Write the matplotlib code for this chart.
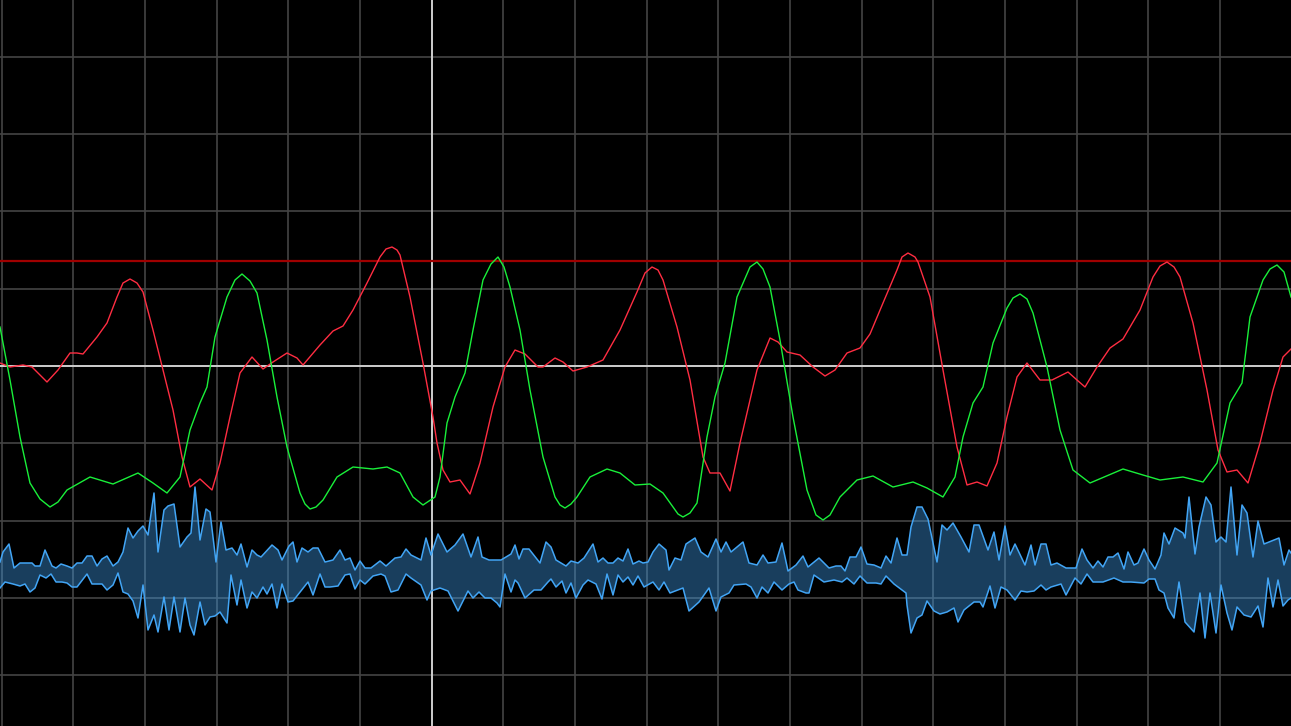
"""
示波器风格波形图：红/绿两条平滑曲线 + 下方蓝色包络
"""

import numpy as np
from matplotlib import pyplot as plt

# 横轴为采样点序号, 纵轴为幅值（以白色基线为 0）
red_x = [0, 10, 23, 32, 47, 58, 70, 77, 83, 97, 107, 117, 123, 130, 137, 143, 153, 163, 173, 182,
         190, 200, 212, 220, 230, 240, 252, 263, 273, 287, 297, 303, 320, 333, 343, 353, 367, 380, 386, 392,
         397, 400, 410, 423, 433, 437, 443, 450, 460, 470, 480, 493, 505, 515, 525, 538, 543, 555, 563, 573,
         587, 603, 620, 637, 645, 652, 658, 663, 677, 690, 703, 710, 720, 730, 740, 757, 770, 778, 787, 800,
         813, 825, 835, 847, 860, 870, 883, 897, 902, 908, 915, 918, 930, 943, 957, 967, 977, 987, 997, 1007,
         1017, 1027, 1040, 1052, 1068, 1077, 1085, 1097, 1110, 1123, 1140, 1153, 1160, 1167, 1174, 1180, 1193, 1207, 1218, 1227,
         1237, 1248, 1260, 1273, 1283, 1291]
red_y = [3, -1, 1, -1, -16, -4, 13, 13, 12, 29, 43, 69, 83, 87, 83, 74, 36, -4, -44, -91,
         -121, -113, -124, -97, -51, -7, 9, -3, 4, 13, 8, 1, 21, 35, 40, 56, 83, 109, 117, 119,
         116, 111, 69, 3, -51, -77, -104, -116, -114, -128, -97, -41, -1, 16, 12, -1, -1, 8, 4, -5,
         -1, 6, 36, 74, 93, 99, 96, 86, 39, -14, -91, -107, -107, -125, -77, -4, 28, 24, 14, 11,
         -1, -10, -4, 13, 18, 32, 63, 96, 109, 113, 109, 104, 69, -4, -81, -119, -116, -120, -97, -51,
         -11, 3, -14, -14, -6, -14, -21, -1, 18, 27, 56, 89, 100, 104, 99, 89, 43, -24, -84, -106,
         -104, -117, -77, -24, 9, 17]

green_x = [0, 10, 20, 30, 40, 50, 58, 67, 90, 113, 138, 153, 167, 180, 190, 200, 207, 215, 227, 235,
           242, 250, 257, 267, 277, 287, 300, 305, 310, 316, 323, 337, 353, 373, 387, 400, 413, 423, 435, 440,
           447, 455, 465, 473, 483, 491, 498, 504, 510, 520, 530, 543, 555, 560, 565, 571, 577, 590, 607, 620,
           635, 650, 663, 673, 678, 683, 690, 697, 707, 715, 725, 737, 750, 757, 763, 770, 780, 793, 807, 816,
           823, 830, 840, 857, 873, 893, 913, 927, 943, 955, 963, 973, 983, 993, 1007, 1013, 1020, 1027, 1033, 1047,
           1060, 1073, 1090, 1123, 1143, 1160, 1183, 1203, 1217, 1230, 1242, 1250, 1263, 1270, 1277, 1284, 1291]
green_y = [39, -14, -71, -117, -133, -141, -136, -124, -111, -118, -107, -117, -127, -111, -64, -37, -21, 29, 69, 86,
           92, 85, 73, 26, -31, -81, -127, -138, -143, -141, -134, -111, -101, -103, -101, -107, -131, -139, -131, -111,
           -57, -31, -7, 36, 86, 102, 109, 99, 79, 36, -24, -91, -131, -139, -142, -138, -131, -111, -103, -107,
           -119, -118, -127, -141, -148, -151, -147, -137, -71, -31, 3, 69, 99, 104, 97, 79, 26, -51, -124, -149,
           -154, -149, -131, -114, -110, -121, -116, -122, -131, -111, -71, -37, -21, 23, 58, 68, 72, 67, 53, -1,
           -64, -104, -117, -103, -109, -114, -111, -116, -97, -37, -17, 49, 86, 97, 101, 94, 69]

env_hi_x = [0, 3, 9, 14, 20, 32, 35, 40, 45, 52, 56, 61, 67, 72, 77, 82, 87, 92, 97, 102,
            107, 113, 118, 123, 128, 133, 138, 143, 148, 154, 158, 164, 168, 174, 180, 187, 191, 195, 200, 206,
            210, 216, 221, 226, 232, 237, 241, 247, 252, 257, 261, 272, 278, 282, 289, 293, 297, 302, 308, 313,
            318, 325, 333, 340, 345, 350, 355, 360, 365, 371, 380, 386, 395, 401, 406, 411, 421, 426, 431, 438,
            447, 455, 463, 471, 478, 482, 489, 501, 511, 515, 519, 523, 529, 540, 546, 551, 556, 566, 571, 578,
            584, 593, 598, 603, 608, 613, 618, 623, 628, 633, 639, 643, 648, 653, 659, 666, 669, 675, 681, 686,
            695, 701, 708, 716, 721, 726, 731, 743, 749, 757, 763, 768, 776, 782, 788, 796, 803, 808, 819, 829,
            836, 841, 845, 850, 856, 861, 867, 874, 881, 886, 891, 897, 902, 907, 911, 917, 922, 928, 937, 942,
            947, 953, 961, 969, 974, 979, 988, 994, 999, 1005, 1010, 1015, 1025, 1031, 1035, 1041, 1046, 1051, 1057, 1066,
            1076, 1082, 1087, 1093, 1098, 1103, 1108, 1113, 1118, 1124, 1128, 1134, 1138, 1144, 1149, 1155, 1161, 1164, 1169, 1175,
            1183, 1185, 1189, 1195, 1199, 1206, 1211, 1216, 1221, 1226, 1231, 1237, 1242, 1247, 1253, 1258, 1264, 1279, 1284, 1289,
            1291]
env_hi_y = [-196, -186, -178, -202, -197, -197, -200, -200, -184, -200, -202, -198, -200, -202, -197, -197, -190, -190, -200, -193,
            -190, -200, -196, -186, -162, -172, -165, -160, -169, -127, -186, -144, -140, -138, -181, -171, -167, -121, -174, -143,
            -146, -196, -156, -184, -182, -189, -178, -201, -184, -189, -191, -179, -184, -194, -180, -176, -196, -182, -186, -182,
            -182, -196, -194, -184, -194, -192, -204, -195, -202, -202, -195, -200, -192, -191, -183, -189, -194, -172, -189, -168,
            -186, -179, -168, -191, -171, -191, -194, -194, -188, -179, -193, -183, -183, -197, -176, -181, -194, -200, -195, -197,
            -192, -178, -196, -192, -197, -197, -192, -195, -183, -198, -195, -197, -196, -186, -178, -184, -204, -192, -194, -178,
            -172, -186, -191, -173, -186, -176, -186, -176, -197, -199, -189, -197, -196, -177, -205, -199, -190, -201, -192, -202,
            -200, -200, -205, -191, -191, -181, -198, -199, -202, -190, -197, -172, -189, -189, -161, -141, -141, -153, -196, -159,
            -164, -157, -171, -186, -159, -159, -184, -166, -194, -160, -189, -178, -199, -179, -199, -178, -178, -199, -197, -202,
            -202, -183, -194, -202, -195, -201, -191, -191, -187, -203, -186, -199, -197, -183, -194, -203, -189, -167, -178, -162,
            -167, -172, -131, -188, -161, -131, -139, -176, -171, -176, -121, -189, -139, -147, -191, -155, -178, -172, -199, -184,
            -187]

env_lo_x = [0, 5, 13, 20, 25, 30, 35, 40, 46, 51, 56, 62, 67, 72, 77, 87, 92, 102, 107, 113,
            118, 123, 128, 133, 138, 143, 148, 154, 158, 164, 169, 174, 180, 185, 190, 194, 200, 205, 210, 215,
            220, 227, 231, 237, 241, 247, 252, 257, 263, 267, 272, 277, 282, 288, 293, 308, 313, 320, 325, 330,
            338, 345, 350, 355, 360, 365, 373, 381, 385, 391, 398, 406, 411, 421, 427, 431, 440, 448, 458, 468,
            473, 479, 485, 491, 497, 500, 505, 511, 515, 518, 525, 534, 541, 548, 551, 556, 562, 566, 571, 576,
            583, 588, 596, 602, 607, 613, 618, 623, 628, 633, 638, 644, 653, 659, 664, 670, 683, 689, 699, 709,
            716, 721, 729, 734, 746, 751, 757, 762, 768, 774, 782, 789, 794, 798, 806, 809, 814, 824, 834, 842,
            847, 854, 860, 867, 876, 881, 886, 894, 906, 907, 911, 917, 922, 927, 934, 940, 947, 954, 958, 964,
            974, 980, 983, 990, 995, 1001, 1007, 1015, 1021, 1027, 1034, 1041, 1046, 1051, 1061, 1066, 1075, 1081, 1087, 1093,
            1103, 1114, 1123, 1131, 1144, 1149, 1155, 1159, 1164, 1168, 1174, 1179, 1185, 1194, 1200, 1205, 1210, 1216, 1221, 1227,
            1232, 1237, 1244, 1251, 1258, 1263, 1268, 1273, 1278, 1283, 1288, 1291]
env_lo_y = [-222, -216, -218, -220, -218, -226, -222, -209, -212, -208, -216, -216, -217, -221, -221, -208, -218, -218, -224, -219,
            -207, -226, -228, -235, -252, -219, -264, -249, -266, -231, -264, -231, -266, -232, -259, -269, -236, -259, -251, -250,
            -246, -257, -209, -239, -214, -242, -226, -232, -221, -228, -218, -242, -218, -236, -235, -216, -229, -208, -221, -221,
            -220, -209, -208, -223, -214, -218, -210, -208, -210, -226, -224, -208, -212, -219, -234, -225, -222, -225, -245, -225,
            -232, -226, -232, -232, -237, -241, -208, -226, -214, -217, -232, -224, -224, -216, -213, -221, -215, -227, -217, -232,
            -219, -214, -218, -233, -208, -229, -209, -216, -211, -219, -210, -221, -216, -224, -216, -227, -222, -245, -236, -222,
            -245, -231, -227, -219, -218, -221, -232, -221, -227, -216, -224, -218, -216, -224, -227, -227, -209, -216, -214, -216,
            -212, -218, -210, -217, -217, -218, -210, -218, -227, -239, -267, -252, -249, -235, -245, -248, -246, -242, -256, -244,
            -236, -236, -241, -220, -242, -221, -224, -234, -225, -226, -225, -219, -224, -221, -218, -229, -212, -218, -208, -216,
            -216, -212, -216, -216, -217, -213, -213, -224, -227, -242, -252, -216, -256, -266, -227, -272, -227, -267, -219, -247,
            -264, -241, -249, -251, -240, -261, -212, -241, -214, -240, -234, -232]

LIMIT = 105  # 红色阈值线

GRID_DX = 71.67
GRID_DY = 77.3
BLUE = "#42a5f5"


def main():
    fig = plt.figure(figsize=(12.91, 7.26), dpi=100, facecolor="black")
    ax = fig.add_axes([0, 0, 1, 1])
    ax.set_facecolor("black")
    ax.set_xlim(0, 1291)
    ax.set_ylim(-360, 366)

    # 网格
    for gx in np.arange(1.7, 1293, GRID_DX):
        ax.axvline(gx, color="#444444", lw=1.2, zorder=1)
    for gy in np.arange(-4, 5) * GRID_DY:
        ax.axhline(gy, color="#444444", lw=1.2, zorder=1)

    # 中心十字与阈值线
    ax.axvline(1.7 + 6 * GRID_DX, color="#d8d8d8", lw=1.3, zorder=2)
    ax.axhline(0, color="#d8d8d8", lw=1.3, zorder=2)
    ax.axhline(LIMIT, color="#a00000", lw=1.6, zorder=2)

    # 蓝色包络
    poly_x = list(env_hi_x) + list(env_lo_x[::-1])
    poly_y = list(env_hi_y) + list(env_lo_y[::-1])
    ax.fill(poly_x, poly_y, color=BLUE, alpha=0.38, lw=0, zorder=3)
    ax.plot(env_hi_x, env_hi_y, color=BLUE, lw=1.1, zorder=4)
    ax.plot(env_lo_x, env_lo_y, color=BLUE, lw=1.1, zorder=4)

    # 红绿曲线
    ax.plot(red_x, red_y, color="#ff2d42", lw=1.0, zorder=5)
    ax.plot(green_x, green_y, color="#19f03a", lw=1.0, zorder=5)

    ax.set_axis_off()
    fig.savefig("out.png", dpi=100, facecolor="black")


if __name__ == '__main__':
    main()
